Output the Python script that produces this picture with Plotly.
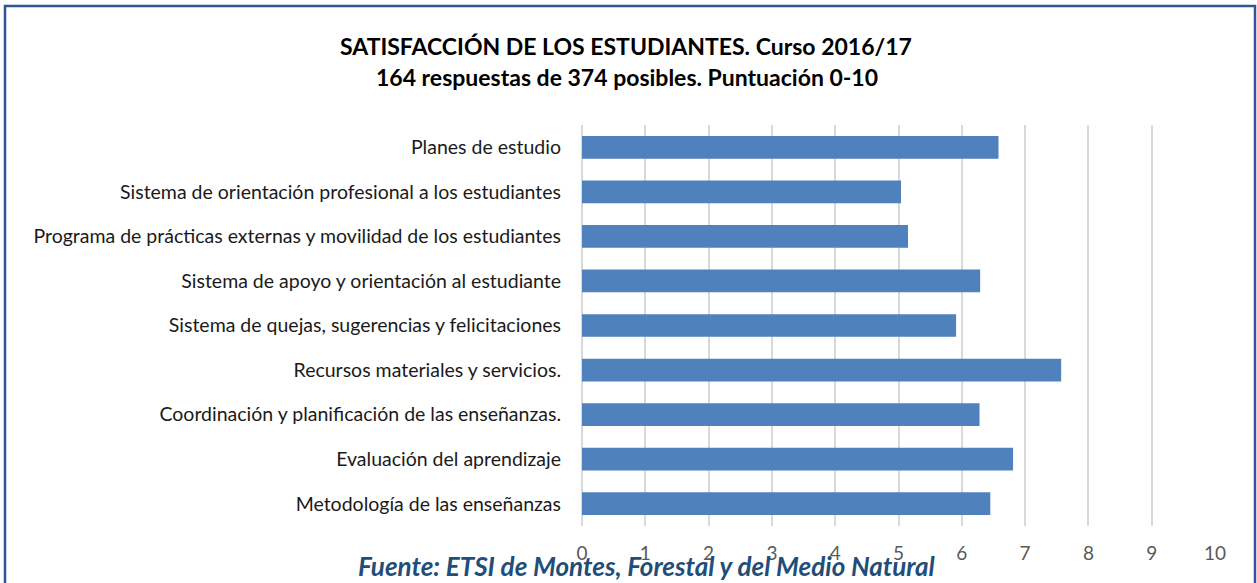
import plotly.graph_objects as go

categories = [
    "Planes de estudio",
    "Sistema de orientación profesional a los estudiantes",
    "Programa de prácticas externas y movilidad de los estudiantes",
    "Sistema de apoyo y orientación al estudiante",
    "Sistema de quejas, sugerencias y felicitaciones",
    "Recursos materiales y servicios.",
    "Coordinación y planificación de las enseñanzas.",
    "Evaluación del aprendizaje",
    "Metodología de las enseñanzas",
]
values = [6.58, 5.04, 5.15, 6.29, 5.91, 7.57, 6.28, 6.81, 6.45]
x_ticks = list(range(0, 11))

W, H = 1257, 583
ml, mr, mt, mb = 582, 42, 125, 57
pw = W - ml - mr
ph = H - mt - mb

def px(x):
    return (x - ml) / pw

def py(y):
    return (H - mb - y) / ph

FONT = "Lato"

fig = go.Figure(go.Bar(
    x=values, y=categories, orientation="h",
    marker=dict(color="#4F81BD", line=dict(width=0)),
))

fig.update_layout(
    width=W, height=H,
    margin=dict(l=ml, r=mr, t=mt, b=mb, autoexpand=False),
    paper_bgcolor="white", plot_bgcolor="white",
    bargap=0.49,
    showlegend=False,
    font=dict(family=FONT),
    xaxis=dict(
        range=[0, 10], tickvals=x_ticks, showgrid=True,
        gridcolor="#D9D9D9", gridwidth=2, zeroline=False,
        showline=False, ticks="",
        tickfont=dict(family=FONT, size=19, color="#595959"),
        ticklabelstandoff=14,
    ),
    yaxis=dict(
        autorange="reversed", showgrid=False, zeroline=False,
        showline=False, ticks="",
        tickfont=dict(family=FONT, size=19.5, color="#1a1a1a"),
        ticklabelstandoff=20,
    ),
    shapes=[
        dict(type="line", xref="paper", yref="paper",
             x0=px(582), x1=px(582), y0=0, y1=1,
             line=dict(color="#D9D9D9", width=2), layer="below"),
        dict(type="rect", xref="paper", yref="paper",
             x0=px(5), x1=px(1255), y0=py(6), y1=py(620),
             line=dict(color="#2F5597", width=2.5), fillcolor="rgba(0,0,0,0)"),
    ],
    annotations=[
        dict(text="<b>SATISFACCIÓN DE LOS ESTUDIANTES. Curso 2016/17</b>",
             xref="paper", yref="paper", x=px(626), y=py(46),
             xanchor="center", yanchor="middle", showarrow=False,
             font=dict(family=FONT, size=23, color="#000000")),
        dict(text="<b>164 respuestas de 374 posibles. Puntuación 0-10</b>",
             xref="paper", yref="paper", x=px(627), y=py(77),
             xanchor="center", yanchor="middle", showarrow=False,
             font=dict(family=FONT, size=23, color="#000000")),
        dict(text="<b><i>Fuente: ETSI de Montes, Forestal y del Medio Natural</i></b>",
             xref="paper", yref="paper", x=px(647), y=py(566),
             xanchor="center", yanchor="middle", showarrow=False,
             font=dict(family=FONT, size=26, color="#1F4E79")),
    ],
)

fig.write_html(
    "out.html",
    config={"displayModeBar": False},
    post_script="document.body.style.margin='0';document.body.style.overflow='hidden';",
)
